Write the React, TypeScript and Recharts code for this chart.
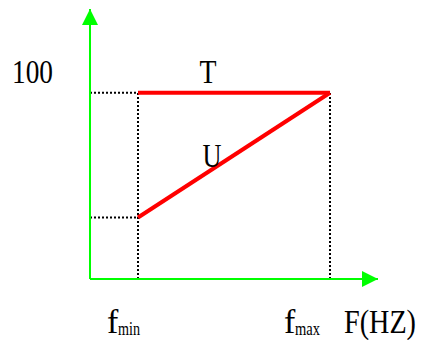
import { LineChart, Line, XAxis, YAxis, ReferenceLine, ReferenceDot } from "recharts";

// frequency points: f_min and f_max
const freqs = [10, 50];
const torque = [100, 100];
const voltage = [33, 100];
const xTickSubs = ["min", "max"];
const yTicks = [100];
const axisName = "F(HZ)";

const X_MAX = 60;
const Y_MAX = 145;

const tData = freqs.map((f, i) => ({ f, v: torque[i] }));
const uData = freqs.map((f, i) => ({ f, v: voltage[i] }));

const SERIF = "'Liberation Serif', 'Times New Roman', serif";
const GREEN = "#00ff00";
const RED = "#ff0000";

/* eslint-disable @typescript-eslint/no-explicit-any */
const XTick = ({ x, y, payload, index }: any) => {
    const left = index === 0 ? -31 : -46;
    return (
        <g fontFamily={SERIF} fill="#000">
            <text x={x + left} y={y + 54} fontSize={34}>f</text>
            <text x={x + left + 11} y={y + 56} fontSize={18} textLength={index === 0 ? 22 : 25} lengthAdjust="spacingAndGlyphs">
                {xTickSubs[index] ?? payload.value}
            </text>
        </g>
    );
};

const YTick = ({ x, y, payload }: any) => (
    <text
        x={x - 37}
        y={y - 10}
        textAnchor="end"
        fontFamily={SERIF}
        fontSize={34}
        fill="#000"
        textLength={41}
        lengthAdjust="spacingAndGlyphs"
    >
        {payload.value}
    </text>
);

const Letter = (txt: string, w: number) => (p: any) => (
    <text
        x={p.cx}
        y={p.cy}
        textAnchor="middle"
        fontFamily={SERIF}
        fontSize={34}
        fill="#000"
        textLength={w}
        lengthAdjust="spacingAndGlyphs"
    >
        {txt}
    </text>
);

const UpArrow = (p: any) => (
    <polygon points={`${p.cx},${p.cy} ${p.cx - 8},${p.cy + 16} ${p.cx + 8},${p.cy + 16}`} fill={GREEN} />
);

const RightArrow = (p: any) => (
    <polygon points={`${p.cx},${p.cy} ${p.cx - 16},${p.cy - 8} ${p.cx - 16},${p.cy + 8}`} fill={GREEN} />
);

const AxisName = (p: any) => (
    <text
        x={p.cx - 34}
        y={p.cy + 54}
        fontFamily={SERIF}
        fontSize={34}
        fill="#000"
        textLength={72}
        lengthAdjust="spacingAndGlyphs"
    >
        {axisName}
    </text>
);

const dotted = { stroke: "#000", strokeWidth: 2, strokeDasharray: "2 2", ifOverflow: "visible" as const };

export default function App() {
    return (
        <div style={{ position: "absolute", left: 0, top: 0, width: 422, height: 340, background: "#fff" }}>
            <LineChart width={422} height={340} margin={{ top: 9, right: 44, left: 0, bottom: 0 }}>
                <XAxis
                    type="number"
                    dataKey="f"
                    domain={[0, X_MAX]}
                    ticks={freqs}
                    tick={<XTick />}
                    tickLine={false}
                    tickSize={0}
                    tickMargin={0}
                    height={61}
                    axisLine={{ stroke: GREEN, strokeWidth: 2 }}
                    allowDataOverflow
                />
                <YAxis
                    type="number"
                    domain={[0, Y_MAX]}
                    ticks={yTicks}
                    tick={<YTick />}
                    tickLine={false}
                    tickSize={0}
                    tickMargin={0}
                    width={90}
                    axisLine={{ stroke: GREEN, strokeWidth: 2 }}
                    allowDataOverflow
                />
                {/* guide lines */}
                <ReferenceLine segment={[{ x: 0, y: torque[0] }, { x: freqs[0], y: torque[0] }]} {...dotted} />
                <ReferenceLine segment={[{ x: 0, y: voltage[0] }, { x: freqs[0], y: voltage[0] }]} {...dotted} />
                <ReferenceLine segment={[{ x: freqs[0], y: 0 }, { x: freqs[0], y: torque[0] }]} {...dotted} />
                <ReferenceLine segment={[{ x: freqs[1], y: 0 }, { x: freqs[1], y: torque[1] }]} {...dotted} />
                <Line data={tData} dataKey="v" type="linear" stroke={RED} strokeWidth={4} dot={false} isAnimationActive={false} />
                <Line data={uData} dataKey="v" type="linear" stroke={RED} strokeWidth={4} dot={false} isAnimationActive={false} />
                <ReferenceDot x={24.6} y={105.3} r={0} shape={Letter("T", 17)} ifOverflow="visible" />
                <ReferenceDot x={25.4} y={60.1} r={0} shape={Letter("U", 19)} ifOverflow="visible" />
                <ReferenceDot x={0} y={Y_MAX} r={0} shape={UpArrow} ifOverflow="visible" />
                <ReferenceDot x={X_MAX} y={0} r={0} shape={RightArrow} ifOverflow="visible" />
                <ReferenceDot x={X_MAX} y={0} r={0} shape={AxisName} ifOverflow="visible" />
            </LineChart>
        </div>
    );
}
